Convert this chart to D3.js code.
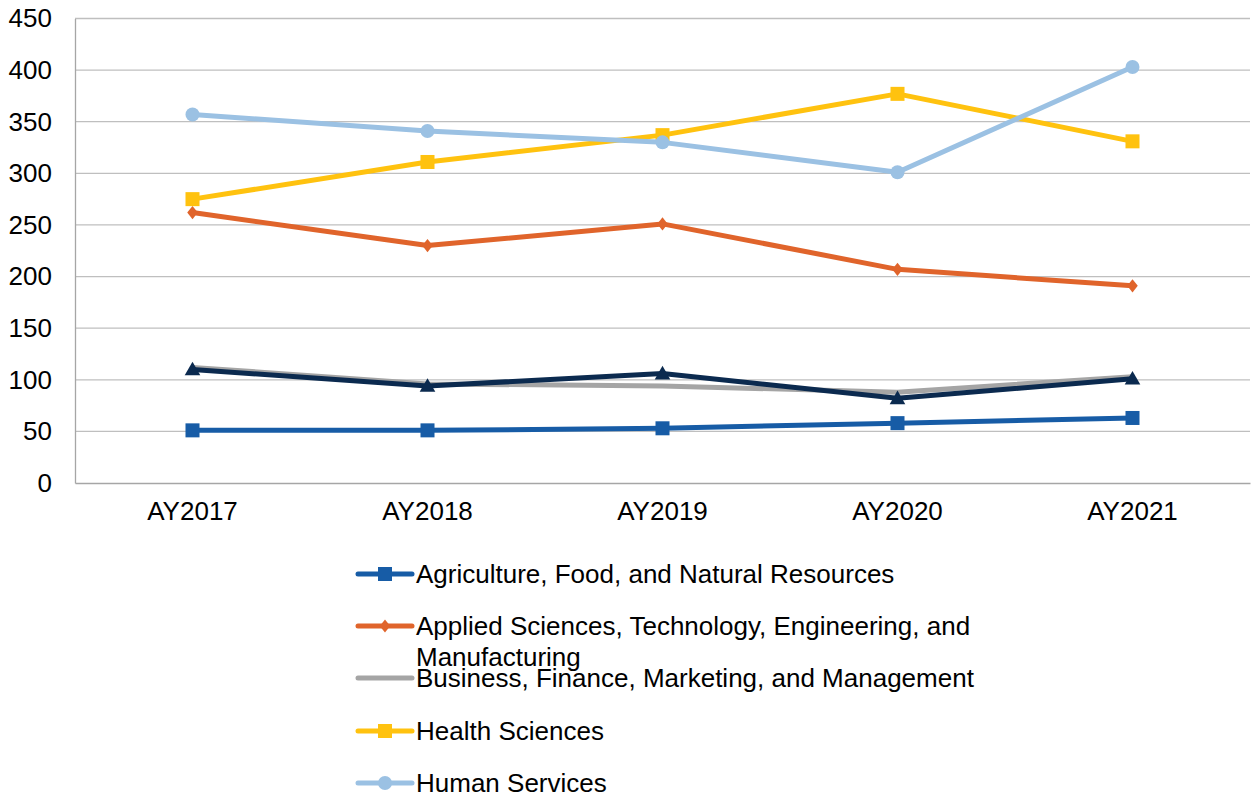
<!DOCTYPE html>
<html><head><meta charset="utf-8">
<script src="https://cdn.jsdelivr.net/npm/d3@7"></script>
<style>body{margin:0;background:#fff}svg{display:block}</style>
</head><body><svg id="c" width="1254" height="799"></svg>
<script>
const categories = ["AY2017","AY2018","AY2019","AY2020","AY2021"];
const yTicks = [0,50,100,150,200,250,300,350,400,450];
const agriculture = [51,51,53,58,63];
const applied = [262,230,251,207,191];
const business = [112,96,94,88,103];
const health = [275,311,337,377,331];
const human = [357,341,330,301,403];
const education = [110,94,106,82,101];
const seriesNames = ["Agriculture, Food, and Natural Resources",
  "Applied Sciences, Technology, Engineering, and Manufacturing",
  "Business, Finance, Marketing, and Management",
  "Health Sciences","Human Services","Education and Training"];
const seriesColors = ["#175CA6","#E0642B","#A5A5A5","#FFC20F","#9BC1E3","#0B2A4F"];
const seriesMarkers = ["square","diamond","none","square","circle","triangle"];
const seriesValues = [agriculture, applied, business, health, human, education];
const legendShown = 5;

const svg = d3.select("#c");
const m = {l:75, r:1250, t:18.5, b:483};
const x = d3.scaleBand().domain(categories).range([m.l, m.r]);
const y = d3.scaleLinear().domain([0,450]).range([m.b, m.t]);
const font = "'Liberation Sans', Arial, sans-serif";
const fs = 26;

// gridlines
svg.append("g").selectAll("line").data(yTicks.filter(d=>d>0)).join("line")
  .attr("x1", m.l).attr("x2", m.r).attr("y1", d=>y(d)).attr("y2", d=>y(d))
  .attr("stroke", "#BFBFBF").attr("stroke-width", 1.3);

// axes
const ya = svg.append("g").attr("transform", `translate(${m.l},0)`)
  .call(d3.axisLeft(y).tickValues(yTicks).tickSize(0).tickPadding(23));
ya.select(".domain").attr("stroke","#A6A6A6").attr("stroke-width",1.3);
ya.selectAll("text").attr("font-family", font).attr("font-size", fs).attr("fill","#000");

const xa = svg.append("g").attr("transform", `translate(0,${m.b})`)
  .call(d3.axisBottom(x).tickSize(0).tickPadding(19));
xa.select(".domain").attr("stroke","#A6A6A6").attr("stroke-width",1.3);
xa.selectAll("text").attr("font-family", font).attr("font-size", fs).attr("fill","#000");

function marker(g, type, color, cx, cy, s) {
  if (type === "square") {
    g.append("rect").attr("x", cx-s/2).attr("y", cy-s/2).attr("width", s).attr("height", s).attr("fill", color);
  } else if (type === "diamond") {
    const r = s*0.55;
    g.append("path").attr("d", `M${cx},${cy-r}L${cx+r*0.8},${cy}L${cx},${cy+r}L${cx-r*0.8},${cy}Z`).attr("fill", color);
  } else if (type === "circle") {
    g.append("circle").attr("cx", cx).attr("cy", cy).attr("r", s/2).attr("fill", color);
  } else if (type === "triangle") {
    g.append("path").attr("d", `M${cx},${cy-s*0.6}L${cx+s*0.6},${cy+s*0.45}L${cx-s*0.6},${cy+s*0.45}Z`).attr("fill", color);
  }
}
const mSize = [14,12,0,14,14,13];

const line = d3.line().x((d,i)=>x(categories[i]) + x.bandwidth()/2).y(d=>y(d));
[0,1,2,3,4,5].forEach(k => {
  const g = svg.append("g");
  g.append("path").datum(seriesValues[k]).attr("d", line)
    .attr("fill","none").attr("stroke", seriesColors[k]).attr("stroke-width", 5)
    .attr("stroke-linejoin","round");
  seriesValues[k].forEach((v,i) => marker(g, seriesMarkers[k], seriesColors[k], x(categories[i]) + x.bandwidth()/2, y(v), mSize[k]));
});

// legend
const legY = [574, 626, 678, 731, 783];
for (let k = 0; k < legendShown; k++) {
  const g = svg.append("g");
  const cy = legY[k];
  g.append("line").attr("x1", 358).attr("x2", 412).attr("y1", cy).attr("y2", cy)
    .attr("stroke", seriesColors[k]).attr("stroke-width", 5).attr("stroke-linecap","round");
  marker(g, seriesMarkers[k], seriesColors[k], 385, cy, mSize[k]);
  const t = g.append("text").attr("x", 416).attr("y", cy + 9)
      .attr("font-family", font).attr("font-size", fs).attr("fill","#000");
  if (k === 1) {
    t.append("tspan").attr("x",416).text("Applied Sciences, Technology, Engineering, and");
    t.append("tspan").attr("x",416).attr("dy", 31).text("Manufacturing");
  } else {
    t.text(seriesNames[k]);
  }
}
</script></body></html>
